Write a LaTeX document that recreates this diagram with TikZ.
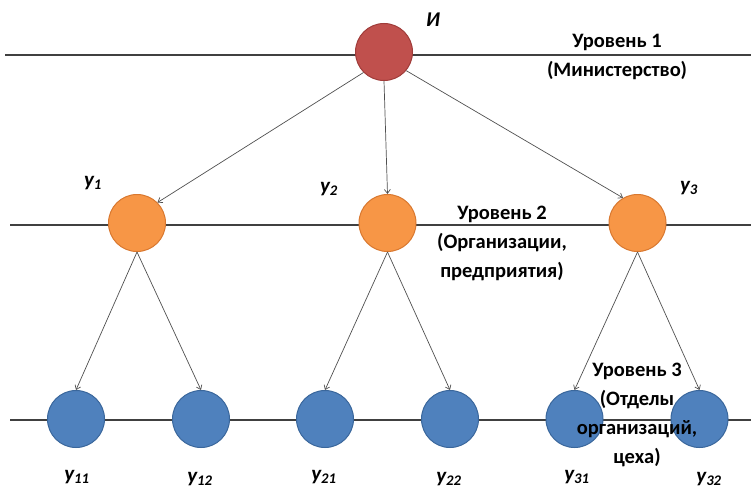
\documentclass[tikz,border=0pt]{standalone}
\usepackage{fontspec}
\setmainfont{Carlito}
\usetikzlibrary{arrows.meta}
\definecolor{redfill}{HTML}{C0504D}
\definecolor{redline}{HTML}{A03C3A}
\definecolor{orfill}{HTML}{F79646}
\definecolor{orline}{HTML}{D9782F}
\definecolor{blfill}{HTML}{4F81BD}
\definecolor{blline}{HTML}{3A679C}
\definecolor{lvl}{HTML}{404040}
\definecolor{arr}{HTML}{505050}
\begin{document}
\begin{tikzpicture}[x=1pt,y=-1pt,
  level/.style={draw=lvl,line width=2pt},
  ball/.style={circle,minimum size=57pt,inner sep=0pt,line width=1pt},
  redball/.style={ball,fill=redfill,draw=redline},
  orball/.style={ball,fill=orfill,draw=orline},
  blball/.style={ball,fill=blfill,draw=blline},
  link/.style={draw=arr,line width=0.7pt,-{Straight Barb[length=4pt,width=6pt]}},
  caption/.style={font=\fontsize{20.5}{29}\selectfont\bfseries,align=center,text=black},
  tag/.style={font=\fontsize{21}{24}\selectfont\bfseries\itshape}]
\useasboundingbox (0,0) rectangle (751,492);
\fill[white] (0,0) rectangle (751,492);
% level lines
\coordinate (l1a) at (5,55); \coordinate (l1b) at (751,55);
\coordinate (l2a) at (10,225); \coordinate (l2b) at (751,225);
\coordinate (l3a) at (10,420); \coordinate (l3b) at (751,420);
\draw[level] (l1a) -- (l1b);
\draw[level] (l2a) -- (l2b);
\draw[level] (l3a) -- (l3b);
% nodes
\node[redball] (I) at (384,52) {};
\node[orball] (y1) at (137,223) {};
\node[orball] (y2) at (387.5,223) {};
\node[orball] (y3) at (637.5,223) {};
\node[blball] (y11) at (76,419) {};
\node[blball] (y12) at (201,419) {};
\node[blball] (y21) at (325,419) {};
\node[blball] (y22) at (450,419) {};
\node[blball] (y31) at (574.5,419) {};
\node[blball] (y32) at (699.5,419) {};
% connectors
\draw[link] (I.225) -- (y1.45);
\draw[link] (I.south) -- (y2.north);
\draw[link] (I.-40) -- (y3.120);
\draw[link] (y1.south) -- (y11.north);
\draw[link] (y1.south) -- (y12.north);
\draw[link] (y2.south) -- (y21.north);
\draw[link] (y2.south) -- (y22.north);
\draw[link] (y3.south) -- (y31.north);
\draw[link] (y3.south) -- (y32.north);
% tags
\node[tag] (tI) at (433,20) {И};
\node[tag] (t1) at (93,183) {у\textsubscript{1}};
\node[tag] (t2) at (329,189) {у\textsubscript{2}};
\node[tag] (t3) at (689,188) {у\textsubscript{3}};
\node[tag] (t11) at (77,477) {у\textsubscript{11}};
\node[tag] (t12) at (200,479) {у\textsubscript{12}};
\node[tag] (t21) at (324,477) {у\textsubscript{21}};
\node[tag] (t22) at (449,479) {у\textsubscript{22}};
\node[tag] (t31) at (577,477) {у\textsubscript{31}};
\node[tag] (t32) at (709,479) {у\textsubscript{32}};
% captions
\node[caption] (c1) at (617,57) {Уровень 1\\(Министерство)};
\node[caption] (c2) at (502,243) {Уровень 2\\(Организации,\\предприятия)};
\node[caption] (c3) at (637,415) {Уровень 3\\(Отделы\\организаций,\\цеха)};
\end{tikzpicture}
\end{document}
